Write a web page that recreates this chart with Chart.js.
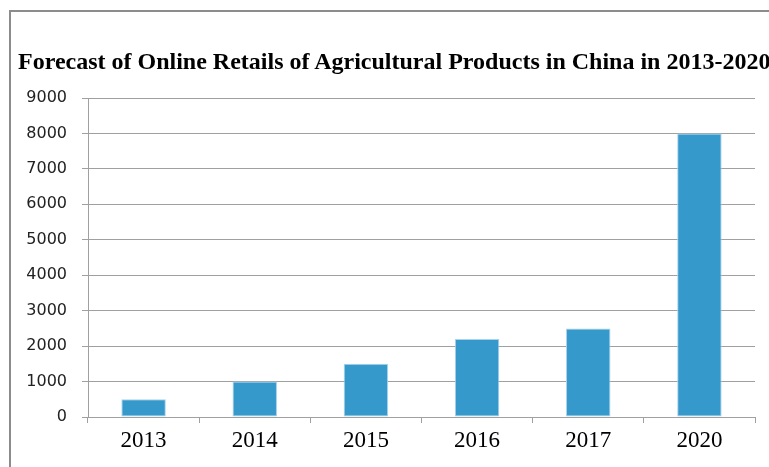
<!DOCTYPE html>
<html>
<head>
<meta charset="utf-8">
<script src="https://cdn.jsdelivr.net/npm/chart.js@4.4.1/dist/chart.umd.min.js"></script>
<style>
  html, body { margin: 0; padding: 0; background: #fff; overflow: hidden; }
  #marco {
    position: absolute; left: 9px; top: 10px; width: 800px; height: 500px;
    border-left: 2px solid #8c8c8c; border-top: 2px solid #8c8c8c;
  }
  #titulo {
    position: absolute; left: 18px; top: 49px; margin: 0; white-space: nowrap;
    font-family: 'Liberation Serif', 'Times New Roman', serif; font-weight: bold; font-size: 24px;
    color: #000; line-height: 1;
  }
  #caja { position: absolute; left: 0; top: 0; width: 769px; height: 467px; }
</style>
</head>
<body>
<div id="marco"></div>
<div id="caja"><canvas id="grafico"></canvas></div>
<h1 id="titulo">Forecast of Online Retails of Agricultural Products in China in 2013-2020</h1>
<script>
// Datos
const anios = ['2013', '2014', '2015', '2016', '2017', '2020'];
const ventas = [500, 1000, 1500, 2200, 2500, 8000];
const ticksY = [0, 1000, 2000, 3000, 4000, 5000, 6000, 7000, 8000, 9000];

const GRIS = '#a0a0a0';

const ctx = document.getElementById('grafico').getContext('2d');
new Chart(ctx, {
  type: 'bar',
  data: {
    labels: anios,
    datasets: [{
      data: ventas,
      backgroundColor: '#3599cc',
      borderColor: '#a9d2ec',
      borderWidth: 1,
      borderSkipped: false,
      categoryPercentage: 0.8,
      barPercentage: 0.5,
    }],
  },
  options: {
    responsive: true,
    maintainAspectRatio: false,
    animation: false,
    layout: { padding: { left: 0, right: 14, top: 98, bottom: 0 } },
    plugins: {
      legend: { display: false },
      tooltip: { enabled: false },
    },
    scales: {
      x: {
        grid: { offset: true, drawOnChartArea: false, drawTicks: true, tickLength: 6, color: GRIS },
        border: { display: true, color: GRIS, width: 1 },
        ticks: {
          color: '#000', padding: 4,
          font: { family: "'Liberation Serif', 'Times New Roman', serif", size: 23 },
        },
        afterFit: (s) => { s.height = 50; },
      },
      y: {
        min: 0,
        max: 9000,
        afterBuildTicks: (s) => { s.ticks = ticksY.map(v => ({ value: v })); },
        grid: { color: GRIS, tickLength: 6 },
        border: { display: true, color: GRIS, width: 1 },
        ticks: {
          color: '#222', padding: 15,
          font: { family: "'DejaVu Sans', sans-serif", size: 16 },
          callback: (v) => String(v),
        },
        afterFit: (s) => { s.width = 88; },
      },
    },
  },
});
</script>
</body>
</html>
